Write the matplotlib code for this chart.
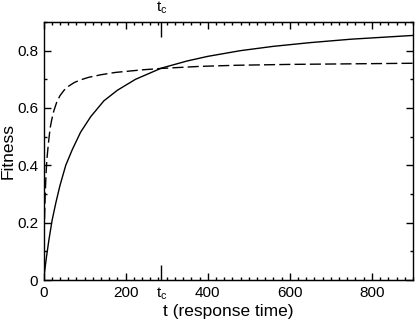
import matplotlib
matplotlib.use('Agg')
import matplotlib.pyplot as plt
from matplotlib.ticker import MultipleLocator

plt.rcParams['font.family'] = ['Liberation Sans', 'DejaVu Sans']
plt.rcParams['mathtext.fontset'] = 'custom'
plt.rcParams['mathtext.rm'] = 'Liberation Sans'
plt.rcParams['mathtext.it'] = 'Liberation Sans'

# curva continua
t_solid = [0, 3, 7, 13, 21, 30, 40, 54, 70, 90, 115, 147, 180, 224, 287,
           350, 400, 480, 560, 650, 750, 900]
f_solid = [0, 0.035, 0.08, 0.14, 0.21, 0.27, 0.33, 0.40, 0.455, 0.515, 0.57,
           0.625, 0.662, 0.70, 0.739, 0.764, 0.78, 0.80, 0.815, 0.828, 0.84, 0.853]

# curva discontinua
t_dash = [0, 1, 2, 4, 6, 8, 12, 16, 20, 25, 32, 40, 50, 62, 75, 90, 110, 140,
          175, 240, 287, 380, 470, 600, 750, 900]
f_dash = [0, 0.13, 0.2, 0.3, 0.37, 0.42, 0.48, 0.53, 0.56, 0.59, 0.62, 0.643,
          0.662, 0.677, 0.689, 0.698, 0.707, 0.716, 0.724, 0.733, 0.738, 0.745,
          0.749, 0.752, 0.754, 0.756]

t_c = 287
x_ticks = [0, 200, 400, 600, 800]
y_ticks = [0, 0.2, 0.4, 0.6, 0.8]
y_labels = ['0', '0.2', '0.4', '0.6', '0.8']

fig = plt.figure(figsize=(4.15, 3.23), dpi=100)
ax = fig.add_axes([0.105, 0.133, 0.89, 0.799])

ax.plot(t_solid, f_solid, color='black', lw=1.0)
ax.plot(t_dash, f_dash, color='black', lw=1.0, dashes=(8, 3))

ax.set_xlim(0, 900)
ax.set_ylim(0, 0.9)
ax.set_xticks(x_ticks)
ax.set_yticks(y_ticks, y_labels)
ax.xaxis.set_minor_locator(MultipleLocator(20))
ax.yaxis.set_minor_locator(MultipleLocator(0.1))
ax.tick_params(which='both', direction='in', top=True, right=True,
               labelsize=11, width=1)
ax.tick_params(which='major', length=5, pad=4)
ax.tick_params(which='minor', length=2.5)
for s in ax.spines.values():
    s.set_linewidth(1)

# marca t_c arriba y abajo (mas larga)
for loc in ['top', 'bottom']:
    sec = ax.secondary_xaxis(loc)
    sec.set_xticks([t_c], [r'$\mathrm{t_c}$'])
    sec.tick_params(direction='in', length=11, width=1, labelsize=11, pad=4)

ax.set_xlabel('t (response time)', fontsize=12.5, labelpad=3)
ax.set_ylabel('Fitness', fontsize=12.5)
ax.yaxis.set_label_coords(-0.075, 0.5)

fig.savefig('out.png', dpi=100)
